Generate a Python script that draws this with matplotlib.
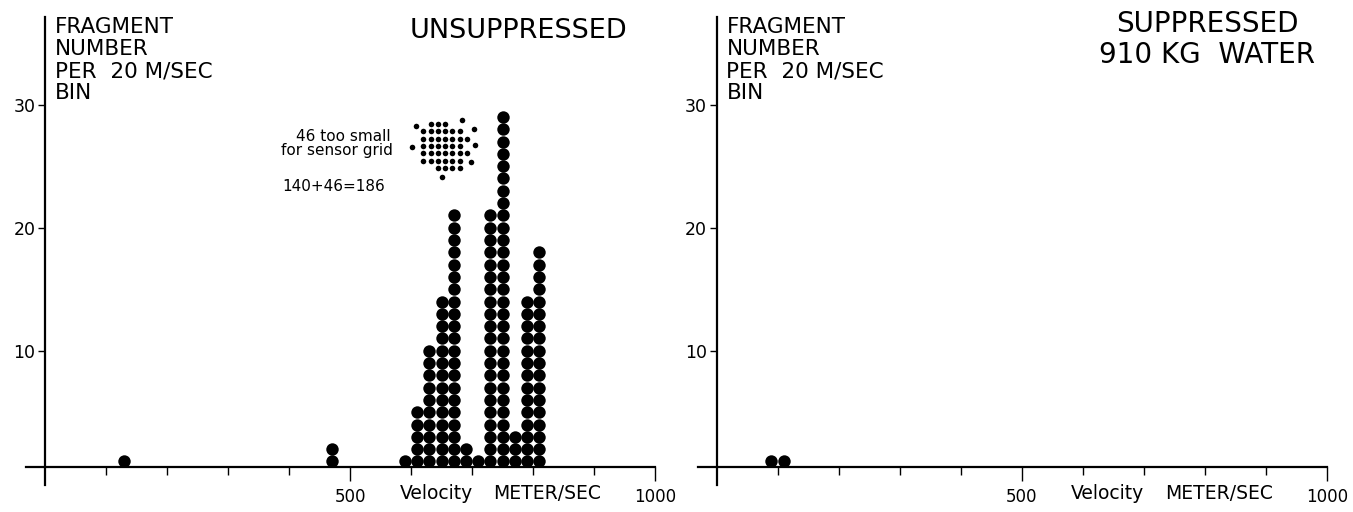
import matplotlib
matplotlib.use("Agg")
import matplotlib.pyplot as plt

# ---------------- data ----------------
unsup_velocity = [130, 470, 590, 610, 630, 650, 670, 690, 710, 730, 750, 770, 790, 810]
unsup_count    = [1,   2,   1,   5,   10,  14,  21,  2,   1,   21,  29,  3,   14,  18]

sup_velocity = [90, 110]
sup_count    = [1, 1]

# 46 fragments too small for the sensor grid (small dots, drawn as a cluster)
small_x = [632, 644, 656,
           620, 632, 644, 656, 668, 680,
           620, 632, 644, 656, 668, 680, 692,
           620, 632, 644, 656, 668, 680,
           620, 632, 644, 656, 668, 680, 692,
           620, 632, 644, 656, 668, 680,
           644, 656, 668, 680,
           608, 683, 703, 601, 705, 699, 650]
small_y = [28.43, 28.43, 28.43,
           27.84, 27.84, 27.84, 27.84, 27.84, 27.84,
           27.24, 27.24, 27.24, 27.24, 27.24, 27.24, 27.24,
           26.65, 26.65, 26.65, 26.65, 26.65, 26.65,
           26.06, 26.06, 26.06, 26.06, 26.06, 26.06, 26.06,
           25.46, 25.46, 25.46, 25.46, 25.46, 25.46,
           24.87, 24.87, 24.87, 24.87,
           28.24, 28.76, 28.02, 26.59, 26.72, 25.37, 24.15]

x_major = [500, 1000]
x_minor = [100, 200, 300, 400, 600, 700, 800, 900]
y_ticks = [10, 20, 30]

# ---------------- figure ----------------
W, H = 1353, 512
plt.rcParams['font.family'] = ['DejaVu Sans']
fig = plt.figure(figsize=(W / 100, H / 100), dpi=100)

def fx(px):
    return px / W

def fy(py):
    return 1 - py / H

def make_axes(x0_px, px_per_unit, left_px, right_px):
    ax = fig.add_axes([fx(left_px), 0, (right_px - left_px) / W, 1])
    ax.set_xlim((left_px - x0_px) / px_per_unit, (right_px - x0_px) / px_per_unit)
    y0 = 473.7
    ppu_y = 12.3
    ax.set_ylim((y0 - H) / ppu_y, y0 / ppu_y)
    ax.patch.set_alpha(0)
    for s in ['top', 'right']:
        ax.spines[s].set_visible(False)
    ax.spines['left'].set_position(('data', 0))
    ax.spines['bottom'].set_position(('data', 0.55))
    ax.spines['left'].set_bounds(-0.95, 37.1)
    ax.spines['bottom'].set_bounds(-31, 1000)
    ax.spines['left'].set_linewidth(1.6)
    ax.spines['bottom'].set_linewidth(1.6)
    ax.set_xticks(x_major)
    ax.set_xticklabels([str(v) for v in x_major])
    ax.set_xticks(x_minor, minor=True)
    ax.set_yticks(y_ticks)
    ax.set_yticklabels([str(v) for v in y_ticks])
    ax.tick_params(axis='x', which='major', direction='out', length=10, width=1.0,
                   labelsize=12, pad=5)
    ax.tick_params(axis='x', which='minor', direction='out', length=6, width=1.0)
    ax.tick_params(axis='y', direction='out', length=5, width=1.0, labelsize=12.5, pad=2)
    ax.text(641, -1.65, 'Velocity', ha='center', va='center', fontsize=13.5, clip_on=False)
    ax.text(823, -1.65, 'METER/SEC', ha='center', va='center', fontsize=13.5, clip_on=False)
    return ax

axL = make_axes(45, 0.61, 0, 676)
axR = make_axes(716.5, 0.6105, 676, W)

def stack(ax, vel, cnt):
    xs, ys = [], []
    for v, n in zip(vel, cnt):
        for k in range(1, n + 1):
            xs.append(v)
            ys.append(k)
    ax.scatter(xs, ys, s=80, c='black', marker='o', linewidths=0, clip_on=False, zorder=3)

stack(axL, unsup_velocity, unsup_count)
stack(axR, sup_velocity, sup_count)
axL.scatter(small_x, small_y, s=16, c='black', marker='o', linewidths=0, zorder=3)

# ---------------- texts ----------------
ylab = 'FRAGMENT\nNUMBER\nPER  20 M/SEC\nBIN'
fig.text(fx(55), fy(17), ylab, ha='left', va='top', fontsize=15.5, linespacing=1.13)
fig.text(fx(726.5), fy(17), ylab, ha='left', va='top', fontsize=15.5, linespacing=1.13)

fig.text(fx(627), fy(18), 'UNSUPPRESSED', ha='right', va='top', fontsize=19.5)
fig.text(fx(1207), fy(10), 'SUPPRESSED\n910 KG  WATER', ha='center', va='top',
         multialignment='center', fontsize=20, linespacing=1.12)

fig.text(fx(391), fy(141), '46 too small', ha='right', va='baseline', fontsize=11)
fig.text(fx(393), fy(155), 'for sensor grid', ha='right', va='baseline', fontsize=11)
fig.text(fx(385), fy(191), '140+46=186', ha='right', va='baseline', fontsize=11)

fig.savefig('out.png', dpi=100)
